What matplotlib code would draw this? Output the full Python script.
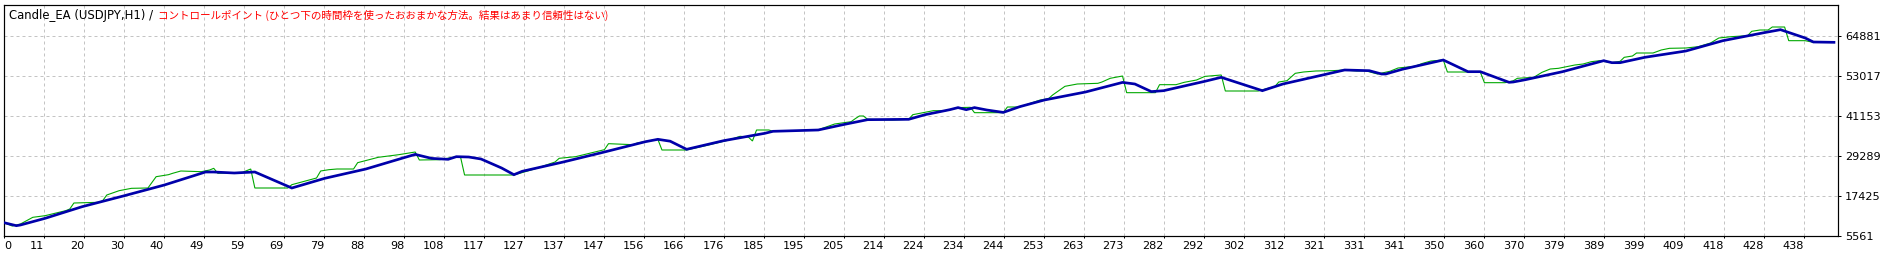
import matplotlib
matplotlib.use('Agg')
import matplotlib.pyplot as plt

# ---------------- data ----------------
X_LABELS = ['0', '11', '20', '30', '40', '49', '59', '69', '79', '88', '98', '108', '117',
            '127', '137', '147', '156', '166', '176', '185', '195', '205', '214', '224',
            '234', '244', '253', '263', '273', '282', '292', '302', '312', '321', '331',
            '341', '350', '360', '370', '379', '389', '399', '409', '418', '428', '438']
Y_TICKS = [5561, 17425, 29289, 41153, 53017, 64881]

BAL_TRADE = [0, 3, 4, 10, 19, 29, 39, 49, 51, 56, 61, 70, 78, 88, 97, 100, 104, 108, 110, 113,
             116, 121, 124, 126, 136, 146, 156, 159, 162, 166, 175, 185, 187, 198, 204, 210,
             220, 224, 230, 232, 234, 236, 239, 243, 247, 253, 263, 272, 275, 279, 282, 292,
             296, 297, 306, 311, 321, 326, 332, 335, 336, 340, 350, 356, 359, 366, 367, 370,
             379, 389, 391, 393, 399, 409, 418, 428, 432, 438, 440, 445]
BAL_VALUE = [9512, 8622, 8824, 10805, 14257, 17425, 20688, 24543, 24543, 24247, 24543, 19798,
             22669, 25433, 28696, 29764, 28577, 28304, 29087, 28992, 28399, 25730, 23748, 24745,
             27509, 30475, 33536, 34236, 33679, 31270, 33833, 36016, 36609, 37001, 38578, 40062,
             40168, 41544, 43028, 43644, 43028, 43644, 42933, 42221, 43917, 45899, 48271, 51119,
             50644, 48390, 48663, 51439, 52625, 52222, 48663, 50644, 53408, 54797, 54595, 53610,
             53610, 54998, 57763, 54298, 54298, 51142, 51237, 51926, 54298, 57561, 56968, 56968,
             58557, 60432, 63493, 65866, 66756, 64288, 63101, 63006]

EQ_TRADE = [0, 2, 4, 7, 10, 15, 16, 17, 23, 24, 25, 28, 31, 35, 37, 40, 41, 43, 48, 50,
            51, 52, 58, 60, 61, 69, 70, 76, 77, 79, 81, 85, 86, 91, 96, 100, 101, 106, 110, 111,
            112, 124, 129, 134, 135, 139, 143, 146, 147, 153, 154, 159, 160, 166, 171, 176, 179, 181, 182, 183,
            186, 187, 198, 199, 202, 206, 207, 208, 209, 210, 216, 220, 221, 224, 226, 229, 232, 235, 236, 243,
            244, 247, 250, 252, 254, 255, 258, 261, 266, 267, 269, 272, 273, 280, 281, 285, 287, 290, 292, 296,
            297, 305, 307, 309, 310, 312, 314, 316, 319, 323, 326, 329, 331, 334, 337, 339, 343, 345, 347, 350,
            351, 359, 360, 365, 367, 368, 372, 374, 376, 378, 382, 384, 386, 388, 391, 393, 394, 396, 397, 401,
            403, 405, 409, 412, 415, 417, 420, 424, 425, 427, 429, 430, 433, 434, 438, 440, 445]
EQ_VALUE = [9512, 8527, 9120, 11101, 11588, 13071, 13569, 15349, 15550, 16037, 17722, 19003, 19703, 19798, 23155, 23748, 24152, 24840, 24638, 25137,
            25635, 24152, 24448, 25433, 19798, 19798, 20782, 22764, 24840, 25232, 25433, 25433, 27308, 28897, 29680, 30475, 28103, 28197, 29087, 29087,
            23654, 23654, 25433, 27509, 28601, 29087, 30274, 31163, 32943, 32646, 33145, 34236, 31069, 31069, 32457, 33940, 35126, 34924, 33738, 37001,
            37001, 36609, 37001, 37499, 38780, 39468, 40358, 41153, 41153, 40168, 39967, 40168, 41544, 42244, 42731, 42731, 43644, 43727, 42138, 42138,
            43822, 43822, 45104, 45899, 46290, 47382, 49956, 50644, 50846, 51237, 52329, 53017, 48070, 48070, 50442, 50442, 51142, 51831, 52898, 53314,
            48568, 48568, 49256, 49849, 51237, 51629, 53812, 54203, 54500, 54595, 54797, 54500, 54595, 53610, 54405, 55390, 55888, 56778, 57466, 57763,
            54203, 54203, 51036, 51036, 51593, 52329, 52625, 54108, 55093, 55295, 56280, 56576, 57264, 57561, 56968, 57371, 58557, 58949, 59839, 59839,
            60729, 61227, 61322, 61713, 62805, 64288, 64679, 64976, 66269, 66661, 66661, 67550, 67550, 63493, 63493, 63006, 63006]

TITLE_EA = 'Candle_EA (USDJPY,H1) /'
TITLE_MODEL = 'コントロールポイント (ひとつ下の時間枠を使ったおおまかな方法。結果はあまり信頼性はない)'

# ---------------- layout ----------------
W, H, DPI = 1893, 256, 100
PX = 72.0 / DPI                    # points per pixel
L, R, T, B = 4, 1838, 4.5, 236     # axes box in pixels
GRID_PX = 40
TRADES_PER_GRID = 9.727

fig = plt.figure(figsize=(W / DPI, H / DPI), dpi=DPI, facecolor='white')
ax = fig.add_axes([L / W, (H - B) / H, (R - L) / W, (B - T) / H])
ax.set_facecolor('white')

y_step = Y_TICKS[1] - Y_TICKS[0]
ax.set_xlim(0, (R - L) / GRID_PX * TRADES_PER_GRID)
ax.set_ylim(Y_TICKS[0], Y_TICKS[0] + (B - T) / GRID_PX * y_step)

ax.plot(EQ_TRADE, EQ_VALUE, color='#00A800', lw=1.1 * PX, solid_joinstyle='miter', zorder=3)
ax.plot(BAL_TRADE, BAL_VALUE, color='#0000AA', lw=2.7 * PX, solid_joinstyle='miter', zorder=4)

ax.set_xticks([i * TRADES_PER_GRID for i in range(len(X_LABELS))])
ax.set_xticklabels(X_LABELS)
ax.set_yticks(Y_TICKS)
ax.set_yticklabels([str(v) for v in Y_TICKS])
ax.yaxis.tick_right()

ax.set_axisbelow(True)
ax.grid(True, color='#C4C4C4', linestyle=(0, (3, 3)), linewidth=1.0 * PX)

for s in ax.spines.values():
    s.set_color('black')
    s.set_linewidth(1.2 * PX)

ax.tick_params(axis='x', direction='out', length=2 * PX, width=PX, pad=3 * PX,
               labelsize=8.1, colors='black')
ax.tick_params(axis='y', which='both', left=False, right=True, labelleft=False, labelright=True,
               direction='out', length=3 * PX, width=PX, pad=4 * PX, labelsize=8.1, colors='black')

for i, lab in enumerate(ax.get_xticklabels()):
    lab.set_ha('left' if i == 0 else 'right')
    lab.set_family('DejaVu Sans')
for lab in ax.get_yticklabels():
    lab.set_family('DejaVu Sans')

# title (two colours)
t1 = fig.text(9 / W, 1 - 19.3 / H, TITLE_EA, color='black', fontsize=8.4,
              family='DejaVu Sans', ha='left', va='baseline')
fig.canvas.draw()
bb = t1.get_window_extent()
fig.text((bb.x1 + 4.5) / W, 1 - 19.3 / H, TITLE_MODEL, color='#FF0000', fontsize=7.6,
         family=['Noto Sans CJK JP', 'DejaVu Sans'], ha='left', va='baseline')

fig.savefig('out.png', dpi=DPI, facecolor='white')
